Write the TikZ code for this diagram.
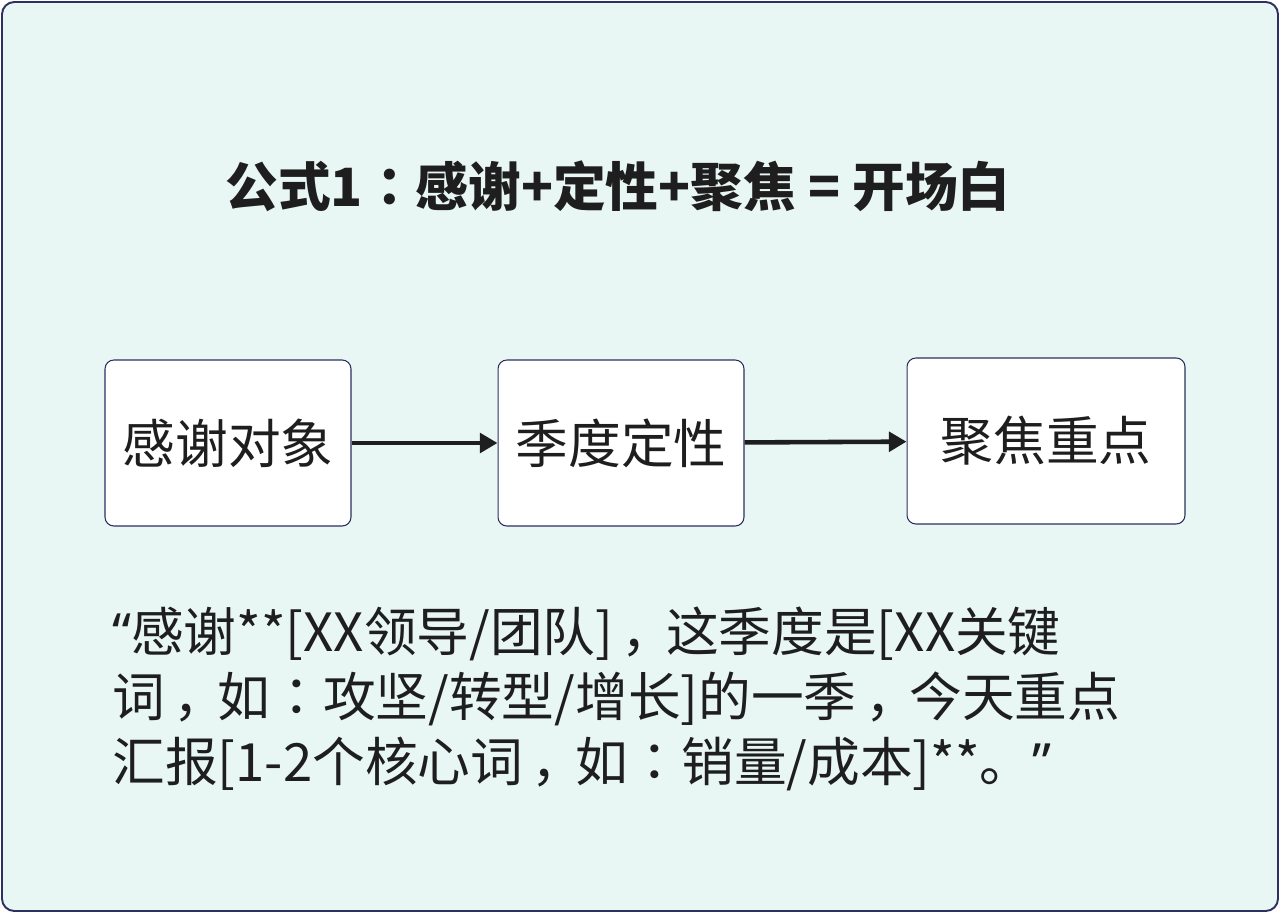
\documentclass[tikz,border=0pt]{standalone}
\usepackage{fontspec}
\setmainfont{Noto Sans CJK SC}
\newfontfamily\quotefont{Noto Sans}
\newfontfamily\puncfont{Noto Sans CJK TC}
\newcommand{\pc}{{\puncfont ：}}
\newcommand{\cm}{\makebox[1em][l]{\hspace{0.16em}，}}
\usetikzlibrary{arrows.meta, positioning}
\definecolor{bgmint}{HTML}{E8F6F4}
\definecolor{framenavy}{HTML}{2E3160}
\definecolor{inkgray}{HTML}{1E1E1E}

\begin{document}
\begin{tikzpicture}[x=0.02cm, y=-0.02cm,
  stage/.style={draw=framenavy, line width=0.6pt, fill=white, rounded corners=5pt,
    minimum width=4.92cm, minimum height=3.32cm, text=inkgray,
    font=\fontsize{30}{36}\selectfont},
  flow/.style={-{Triangle[length=10pt, width=11pt]}, line width=2.6pt, draw=inkgray}]
  \useasboundingbox (0,0) rectangle (1280,913);
  % Frame
  \draw[framenavy, fill=bgmint, line width=1.1pt, rounded corners=7pt] (2,2) rectangle (1278,911);
  % Title
  \node[font=\bfseries\fontsize{30}{36}\selectfont, text=inkgray] (title) at (618,186)
    {公式1\pc 感谢+定性+聚焦 = 开场白};
  % Steps
  \node[stage] (thanks) at (228,443) {感谢对象};
  \node[stage] (season) at (621,443) {季度定性};
  \node[stage, minimum width=5.56cm] (focus) at (1046,441) {聚焦重点};
  % Arrows
  \draw[flow] (thanks) -- (season);
  \draw[flow] (season) -- (focus);
  % Script
  \node[anchor=north west, align=left, inner sep=0pt, text=inkgray,
    font=\fontsize{30}{36.9}\selectfont] (script) at (112,607)
    {{\quotefont “}感谢**[XX领导/团队]\cm 这季度是[XX关键\\
     词\cm 如\pc 攻坚/转型/增长]的一季\cm 今天重点\\
     汇报[1-2个核心词\cm 如\pc 销量/成本]**。{\quotefont ”}};
\end{tikzpicture}
\end{document}
